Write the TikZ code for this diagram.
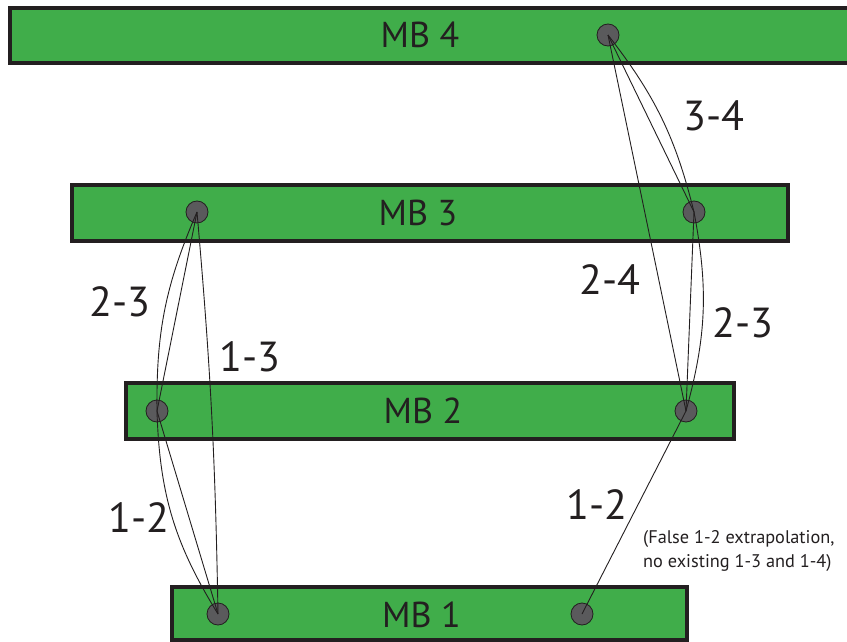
\documentclass[tikz,border=0pt]{standalone}
\usepackage{fontspec}
\setmainfont{PT Sans}
\definecolor{barfill}{RGB}{64,173,74}
\definecolor{edge}{RGB}{35,31,32}
\definecolor{dotgray}{RGB}{90,90,92}
\begin{document}
\begin{tikzpicture}[x=1pt,y=-1pt,
  bar/.style={draw=edge, line width=3.5pt, fill=barfill, inner sep=0pt, rectangle},
  barlabel/.style={inner sep=0pt, text=edge, font=\fontsize{36}{40}\selectfont},
  pin/.style={circle, draw=edge, line width=0.8pt, fill=dotgray, minimum size=22pt, inner sep=0pt},
  link/.style={draw=edge, line width=0.9pt},
  pairlabel/.style={inner sep=0pt, text=edge, font=\fontsize{42}{46}\selectfont},
  notetext/.style={inner sep=0pt, text=edge, anchor=base west, font=\fontsize{18.3}{24}\selectfont}]
  \useasboundingbox (0,0) rectangle (847,642);

  % bars
  \node[bar, minimum width=860pt, minimum height=55pt] (mb4) at (440,35.5) {};
  \node[bar, minimum width=716pt, minimum height=56pt] (mb3) at (430,213) {};
  \node[bar, minimum width=608pt, minimum height=56pt] (mb2) at (430,411) {};
  \node[bar, minimum width=515pt, minimum height=53pt] (mb1) at (429.5,613.5) {};

  \node[barlabel] (t4) at (420,35) {MB 4};
  \node[barlabel] (t3) at (418,213) {MB 3};
  \node[barlabel] (t2) at (423,411) {MB 2};
  \node[barlabel] (t1) at (421.5,615) {MB 1};

  % measurement points
  \node[pin] (d4)  at (608,35) {};
  \node[pin] (d3l) at (197,212) {};
  \node[pin] (d3r) at (694,212) {};
  \node[pin] (d2l) at (157,411) {};
  \node[pin] (d2r) at (686,411) {};
  \node[pin] (d1l) at (218,614) {};
  \node[pin] (d1r) at (582,614) {};

  % left chain
  \draw[link] (d3l.center) to[bend right=12] (d2l.center);
  \draw[link] (d3l.center) -- (d2l.center);
  \draw[link] (d3l.center) to[bend left=2] (d1l.center);
  \draw[link] (d2l.center) to[bend right=15] (d1l.center);
  \draw[link] (d2l.center) -- (d1l.center);

  % right chain
  \draw[link] (d4.center) -- (d3r.center);
  \draw[link] (d4.center) to[bend left=12] (d3r.center);
  \draw[link] (d4.center) -- (d2r.center);
  \draw[link] (d3r.center) -- (d2r.center);
  \draw[link] (d3r.center) to[bend left=13] (d2r.center);
  \draw[link] (d2r.center) -- (d1r.center);

  % pair labels
  \node[pairlabel] (l34)  at (714,116) {3-4};
  \node[pairlabel] (l23a) at (120,302) {2-3};
  \node[pairlabel] (l13)  at (250,357) {1-3};
  \node[pairlabel] (l24)  at (610,280) {2-4};
  \node[pairlabel] (l23b) at (743,323) {2-3};
  \node[pairlabel] (l12a) at (139,518) {1-2};
  \node[pairlabel] (l12b) at (597,505) {1-2};

  \node[notetext] (note1) at (643,543) {(False 1-2 extrapolation,};
  \node[notetext] (note2) at (643,567) {no existing 1-3 and 1-4)};
\end{tikzpicture}
\end{document}
